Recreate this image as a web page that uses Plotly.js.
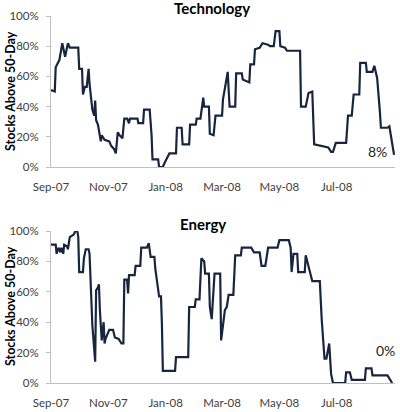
<!DOCTYPE html>
<html><head><meta charset="utf-8">
<script src="https://cdn.plot.ly/plotly-3.0.1.min.js"></script>
<style>html,body{margin:0;padding:0;background:#fff}#chart{width:400px;height:412px}</style>
</head><body><div id="chart"></div>
<script>
const techDates = ['2007-09-01','2007-09-05','2007-09-06','2007-09-10','2007-09-13','2007-09-16','2007-09-19','2007-09-21','2007-09-30','2007-10-01','2007-10-04','2007-10-05','2007-10-07','2007-10-09','2007-10-11','2007-10-12','2007-10-15','2007-10-17','2007-10-18','2007-10-19','2007-10-21','2007-10-24','2007-10-25','2007-10-28','2007-11-02','2007-11-04','2007-11-07','2007-11-09','2007-11-11','2007-11-13','2007-11-16','2007-11-18','2007-11-21','2007-11-23','2007-11-24','2007-12-02','2007-12-03','2007-12-08','2007-12-09','2007-12-15','2007-12-17','2007-12-18','2007-12-24','2007-12-25','2007-12-29','2007-12-31','2008-01-05','2008-01-12','2008-01-13','2008-01-18','2008-01-19','2008-01-26','2008-01-27','2008-02-02','2008-02-03','2008-02-07','2008-02-10','2008-02-11','2008-02-16','2008-02-17','2008-02-21','2008-02-23','2008-03-01','2008-03-02','2008-03-04','2008-03-07','2008-03-09','2008-03-15','2008-03-16','2008-03-22','2008-03-23','2008-03-30','2008-03-31','2008-04-04','2008-04-05','2008-04-10','2008-04-13','2008-04-19','2008-04-21','2008-04-25','2008-04-27','2008-05-01','2008-05-02','2008-05-07','2008-05-09','2008-05-23','2008-05-24','2008-05-29','2008-06-01','2008-06-05','2008-06-07','2008-06-17','2008-06-22','2008-06-25','2008-06-27','2008-06-30','2008-07-11','2008-07-13','2008-07-17','2008-07-19','2008-07-25','2008-07-26','2008-08-01','2008-08-02','2008-08-08','2008-08-10','2008-08-13','2008-08-16','2008-08-17','2008-08-24','2008-08-26','2008-08-31'];
const techValues = [51,50,66,71,82,73,82,79,79,65,65,48,53,53,65,55,38,34,44,31,28,17,21,18,17,14,12,9,23,21,19,32,32,29,32,32,29,29,38,38,21,5,5,0,0,3,9,9,26,26,15,15,28,28,32,32,46,40,40,22,21,34,34,45,52,63,40,40,62,62,58,56,68,68,78,79,82,81,80,80,90,90,80,79,77,77,40,40,49,50,15,14,13,10,10,16,16,34,34,48,48,69,69,63,63,67,59,36,26,26,27,8];

const energyDates = ['2007-09-01','2007-09-06','2007-09-07','2007-09-09','2007-09-11','2007-09-12','2007-09-14','2007-09-15','2007-09-18','2007-09-19','2007-09-21','2007-09-25','2007-09-27','2007-09-29','2007-09-30','2007-10-01','2007-10-05','2007-10-06','2007-10-08','2007-10-11','2007-10-12','2007-10-15','2007-10-18','2007-10-19','2007-10-21','2007-10-22','2007-10-23','2007-10-25','2007-10-27','2007-10-28','2007-10-29','2007-11-02','2007-11-06','2007-11-08','2007-11-12','2007-11-15','2007-11-17','2007-11-18','2007-11-21','2007-11-22','2007-11-23','2007-11-29','2007-11-30','2007-12-05','2007-12-06','2007-12-12','2007-12-14','2007-12-16','2007-12-20','2007-12-21','2007-12-25','2007-12-27','2007-12-28','2007-12-29','2008-01-11','2008-01-12','2008-01-25','2008-01-26','2008-02-01','2008-02-02','2008-02-06','2008-02-08','2008-02-11','2008-02-12','2008-02-16','2008-02-17','2008-02-19','2008-02-22','2008-02-28','2008-02-29','2008-03-04','2008-03-06','2008-03-08','2008-03-13','2008-03-15','2008-03-21','2008-03-22','2008-04-01','2008-04-04','2008-04-10','2008-04-12','2008-04-16','2008-04-19','2008-04-29','2008-05-01','2008-05-11','2008-05-13','2008-05-14','2008-05-16','2008-05-20','2008-05-21','2008-05-28','2008-05-29','2008-05-31','2008-06-05','2008-06-13','2008-06-15','2008-06-18','2008-06-20','2008-06-23','2008-06-25','2008-06-27','2008-07-10','2008-07-11','2008-07-15','2008-07-17','2008-07-31','2008-08-01','2008-08-07','2008-08-08','2008-08-24','2008-08-29'];
const energyValues = [91,91,85,89,86,89,85,91,90,88,96,97.5,100,100,96,73,73,82,88,88,85,38,14,61,63,65,48,28,40,26,29,35,35,30,29,26,26,68,68,59,71,71,77,77,89,89,92,83,83,75,57,57,39,8,8,17,17,50,50,55,55,82,80,72,72,50,42,72,72,28,48,50,58,58,84,84,89,89,86,86,77,77,89,89,94,94,89,73,85,85,73,73,84,79,67,67,42,16,16,26,6,0,0,7,7,2,2,9.6,9.6,5,5,0];

const tickDates = ['2007-09-01','2007-11-01','2008-01-01','2008-03-01','2008-05-01','2008-07-01'];
const tickLabels = ['Sep-07','Nov-07','Jan-08','Mar-08','May-08','Jul-08'];
const yTicks = [0,20,40,60,80,100];
const yTickLabels = ['0%','20%','40%','60%','80%','100%'];
const chartTitles = ['Technology','Energy'];
const yTitle = 'Stocks Above 50-Day';
const lastLabels = ['8%','0%'];

const lineColor = '#17253f';
const FONT = 'Lato, "Open Sans", sans-serif';
const tickFont = {family: FONT, size: 11.5, color: '#404040'};

function xax(anchor){
  return {type:'date', range:['2007-09-01','2008-09-01'], tickvals: tickDates, ticktext: tickLabels,
    showgrid:false, zeroline:false, showline:true, linecolor:'#bfbfbf', linewidth:1,
    ticks:'', ticklabelstandoff: 9, tickfont: tickFont, anchor: anchor, fixedrange:true};
}
function yax(domain, anchor){
  return {range:[0,100], tickmode:'array', tickvals: yTicks, ticktext: yTickLabels, domain: domain, anchor: anchor,
    showgrid:false, zeroline:false, showline:true, linecolor:'#bfbfbf', linewidth:1,
    ticks:'outside', ticklen:4, tickcolor:'#bfbfbf', ticklabelstandoff: 5, tickfont: tickFont};
}

const data = [
  {x: techDates, y: techValues, type:'scatter', mode:'lines', line:{color:lineColor, width:2.2}, xaxis:'x', yaxis:'y', hoverinfo:'skip'},
  {x: energyDates, y: energyValues, type:'scatter', mode:'lines', line:{color:lineColor, width:2.2}, xaxis:'x2', yaxis:'y2', hoverinfo:'skip'}
];

const W = 344, H = 367;
function px(x){ return (x-51)/W; }
function py(y){ return (383-y)/H; }

const layout = {
  width:400, height:412, margin:{l:51, r:5, t:16, b:29},
  paper_bgcolor:'#fff', plot_bgcolor:'#fff', showlegend:false,
  xaxis: Object.assign(xax('y'), {domain:[0,1]}),
  yaxis: yax([py(167),1], 'x'),
  xaxis2: Object.assign(xax('y2'), {domain:[0,1]}),
  yaxis2: yax([0,py(231)], 'x2'),
  annotations: [
    {text: chartTitles[0], xref:'paper', yref:'paper', x:px(212), y:py(8.5), xanchor:'center', yanchor:'middle', showarrow:false, font:{family:FONT, size:15, color:'#000', weight:'bold'}},
    {text: chartTitles[1], xref:'paper', yref:'paper', x:px(203), y:py(224), xanchor:'center', yanchor:'middle', showarrow:false, font:{family:FONT, size:15, color:'#000', weight:'bold'}},
    {text: yTitle, xref:'paper', yref:'paper', x:px(10), y:py(91), textangle:-90, xanchor:'center', yanchor:'middle', showarrow:false, font:{family:FONT, size:12.5, color:'#000', weight:'bold'}},
    {text: yTitle, xref:'paper', yref:'paper', x:px(10), y:py(306), textangle:-90, xanchor:'center', yanchor:'middle', showarrow:false, font:{family:FONT, size:12.5, color:'#000', weight:'bold'}},
    {text: lastLabels[0], xref:'paper', yref:'paper', x:px(377), y:py(151.5), xanchor:'center', yanchor:'middle', showarrow:false, font:{family:FONT, size:14, color:'#262626'}},
    {text: lastLabels[1], xref:'paper', yref:'paper', x:px(385), y:py(350.5), xanchor:'center', yanchor:'middle', showarrow:false, font:{family:FONT, size:14, color:'#262626'}}
  ]
};

Plotly.newPlot('chart', data, layout, {staticPlot:true, displayModeBar:false});
</script>
</body></html>
